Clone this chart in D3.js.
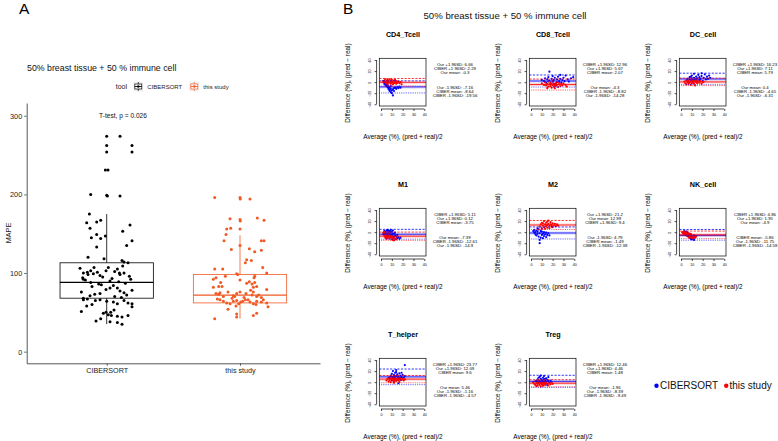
<!DOCTYPE html>
<html>
<head>
<meta charset="utf-8">
<script src="https://cdn.jsdelivr.net/npm/d3@7"></script>
<style>
  body { margin: 0; background: #fff; }
  text { font-family: "Liberation Sans", Arial, Helvetica, sans-serif; }
</style>
</head>
<body>
<script>
// ---------------- DATA: Panel A ----------------
const tools = ["CIBERSORT", "this study"];
const yTicksA = [0, 100, 200, 300];
// box stats: [lowerWhisker, q1, median, q3, upperWhisker]
const boxCiber = [35, 68, 88, 113, 175];
const boxOur = [42, 62, 72, 98, 148];
const pValueText = "T-test, p = 0.026";
// jittered points: [jitter (category units), MAPE]
const ptsCiber = [
  [0,274],[0.1,274],[0,262],[0.19,262],[0,254],[0.19,254],[-0.01,231],[0.01,231],
  [-0.12,200],[0,199],[0.005,198],[0.1,198],[-0.13,175],[-0.15,164],[-0.075,165],[-0.045,167],
  [-0.125,157],[0.12,153],[0.175,161],[-0.075,149],[-0.115,145],[-0.045,144],[-0.01,147],
  [-0.075,133],[0.15,135],[0.19,141],[-0.14,120],[-0.02,118],[0.115,116],[0.13,114],[0.16,113],[0.12,109],
  [-0.2,106],[-0.175,100],[-0.145,101],[-0.12,103],[-0.095,107],[-0.07,101],[-0.05,97],[-0.1,99],
  [-0.005,103],[0.012,107],[0.08,105],[0.095,100],[0.1,98],[0.13,100],[0.18,92],[-0.175,92],[-0.16,91],
  [-0.04,85],[-0.11,83],[0.05,84],[0.025,90],[-0.19,76],[-0.05,74],[-0.005,79],[0.025,81],[0.08,81],
  [0.1,77],[0.13,75],[0.15,72],[0.19,78],[-0.125,71],[-0.09,73],[-0.175,68],[-0.145,67],[0.06,70],[0.11,69],
  [-0.03,95],[0.04,93],[-0.12,88],[0.14,87],[-0.06,86],[0.09,89],[0.17,96],[-0.18,94],[0.06,102],[-0.14,98],
  [-0.19,51],[-0.08,39],[-0.045,42],[-0.025,49],[-0.005,50],[0.012,47],[0.03,50],[0.055,53],[0.035,46],
  [0.08,45],[0.115,44],[0.16,46],[0.025,38],[0.08,37],[0.115,35],[0.08,61],[0.16,62],[0.19,61],[0.19,57],
  [-0.175,66],[-0.085,65],[-0.05,66],[0,64],[-0.11,60],[0.05,63],[-0.15,58],[0.13,65]
];
const ptsOur = [
  [-0.19,196],[0,196],[0.002,194],[0.075,194],[-0.075,169],[0,168],[0.002,166],[0.13,170],[0.18,167],
  [-0.1,156],[-0.07,157],[-0.105,149],[0,156],[-0.12,141],[-0.065,130],[0,135],[0.07,131],[0.11,127],
  [0.16,129],[0.16,141],[0.18,141],[0.05,117],[0.04,113],[0.085,116],[0.17,107],[-0.19,105],[-0.13,105],
  [-0.025,99],[-0.017,98],[-0.11,96],[0.11,96],[0.105,94],[0.2,100],
  [-0.2,92],[-0.18,94],[-0.145,88],[-0.2,82],[-0.16,83],[-0.135,83],[0,91],[0.05,87],[0.07,89],[0.09,86],
  [0.11,88],[0.125,83],[0.1,82],[-0.18,74],[-0.16,73],[-0.15,75],[-0.125,70],[-0.05,71],[-0.04,70],
  [-0.025,74],[0,76],[0.045,74],[0.09,72],[0.1,76],[0.125,70],[0.16,69],[0.2,79],
  [-0.15,66],[-0.125,64],[-0.1,62],[-0.075,61],[-0.05,64],[-0.025,65],[-0.01,61],[0.005,63],[0.02,64],
  [0.04,66],[0.075,63],[0.1,61],[0.125,64],[0.175,66],[0.2,62],[0.21,57],[-0.09,54],
  [-0.19,42],[-0.025,44],[-0.025,48],[0.1,46],[0.125,49],
  [-0.06,68],[0.03,69],[0.06,66],[-0.17,67],[0.14,72],[-0.09,76],[0.08,78],[0.16,63],[-0.03,58],[0.12,60]
];

// ---------------- DATA: Panel B ----------------
const cellTypes = ["CD4_Tcell","CD8_Tcell","DC_cell","M1","M2","NK_cell","T_helper","Treg"];
const ourMean   = [-0.3, -4.3, 0.4, -7.39, 12.99, -4.9, 5.46, -1.96];
const ourUpper  = [6.66, 5.67, 7.11, 0.12, 21.2, 1.95, 12.09, 4.46];
const ourLower  = [-7.16, -14.28, -6.31, -14.9, 4.79, -11.75, -1.16, -8.39];
const ciberMean = [-8.64, 2.07, 5.79, -3.75, -1.49, -5.86, 9.6, 1.48];
const ciberUpper= [2.29, 12.96, 16.23, 5.11, 9.4, 4.86, 23.77, 12.46];
const ciberLower= [-19.56, -8.82, -4.65, -12.61, -12.38, -14.58, -4.57, -9.49];
const xTicksB = [0, 10, 20, 30, 40];
const yTicksB = [-40, -20, 0, 20, 40];

// [average, difference] pairs
const cd4Ciber = [[2,2],[3,0],[3,-3],[4,-2],[4,-5],[5,-4],[5,-7],[6,-6],[6,-9],[7,-8],[7,-11],[7,-13],[8,-10],[8,-14],[8,-16],[9,-12],[9,-18],[10,-15],[10,-20],[11,-13],[11,-24],[12,-11],[12,-16],[13,-10],[14,-12],[15,-9],[16,-11],[17,-8],[18,-10],[5,-1],[6,-3],[9,-7]];
const cd4Our = [[2,1],[3,3],[4,0],[4,5],[5,2],[5,-2],[6,4],[6,1],[7,3],[7,-1],[8,5],[8,0],[9,2],[9,-3],[10,4],[10,-1],[11,1],[11,-4],[12,3],[12,-2],[13,0],[14,2],[14,-3],[15,-1],[16,1],[17,-2],[18,0],[19,-4],[13,4],[6,-4]];
const cd8Ciber = [[10,4],[12,2],[13,7],[14,-1],[15,5],[16,9],[17,19],[17,3],[18,-3],[19,6],[20,11],[20,1],[21,4],[22,8],[23,-2],[24,5],[25,10],[26,2],[27,6],[28,-1],[29,4],[30,8],[31,2],[32,12],[34,5],[35,1],[37,7],[39,9],[22,-4],[27,13]];
const cd8Our = [[10,-2],[12,-5],[13,0],[14,-6],[15,-3],[16,-8],[16,1],[17,-4],[18,-7],[18,-1],[19,-10],[19,-3],[20,-5],[20,2],[21,-8],[21,-2],[22,-6],[22,-11],[23,-3],[23,-7],[24,-5],[24,0],[25,-9],[26,-4],[26,-1],[27,-7],[28,-3],[29,-6],[30,-2],[32,-5],[33,-8],[15,-11]];
const dcCiber = [[5,3],[6,6],[7,1],[8,9],[9,4],[10,7],[10,12],[11,2],[12,8],[12,15],[13,5],[14,10],[14,1],[15,7],[16,13],[17,4],[17,9],[18,6],[19,11],[20,2],[21,8],[22,14],[23,5],[24,10],[25,6],[26,12],[27,8],[11,0],[19,16],[9,10]];
const dcOur = [[3,1],[4,-2],[5,3],[5,-4],[6,0],[7,2],[7,-3],[8,5],[8,-1],[9,1],[9,-5],[10,3],[10,-2],[11,0],[11,4],[12,-3],[12,1],[13,2],[13,-6],[14,0],[15,3],[15,-2],[16,1],[17,-1],[18,2],[19,-3],[20,0],[21,1],[6,4],[14,5]];
const m1Ciber = [[3,2],[4,0],[5,3],[5,-2],[6,4],[6,1],[7,-1],[7,3],[8,2],[8,-3],[9,0],[9,-5],[10,1],[10,-4],[11,-2],[11,-7],[12,-3],[12,-9],[13,-6],[14,-8],[15,-11],[16,-9],[17,-12],[18,-10],[6,-4],[9,4],[13,-1],[15,-5],[4,-3],[11,3]];
const m1Our = [[2,-1],[2,-4],[3,-3],[3,-6],[4,-2],[4,-8],[5,-5],[5,-9],[6,-4],[6,-7],[6,-11],[7,-6],[7,-9],[8,-8],[8,-12],[9,-7],[9,-10],[10,-9],[10,-13],[11,-11],[11,-14],[12,-10],[12,-15],[13,-12],[14,-13],[3,0],[5,-12],[8,-5],[4,-10],[7,-3]];
const m2Ciber = [[2,2],[3,-1],[3,4],[4,0],[4,-4],[5,3],[5,-6],[6,1],[6,-3],[7,5],[7,-8],[8,-2],[8,-20],[9,2],[9,-10],[10,-5],[10,1],[11,-3],[11,-11],[12,0],[12,-7],[13,-4],[14,-1],[14,-9],[15,-5],[16,-2],[17,-6],[6,7],[10,6],[8,-14]];
const m2Our = [[8,10],[9,14],[10,7],[10,17],[11,12],[12,9],[12,20],[13,14],[13,6],[14,11],[14,17],[15,13],[15,8],[16,15],[16,21],[17,11],[17,7],[18,14],[18,18],[19,10],[19,13],[20,16],[20,9],[21,12],[22,15],[23,11],[24,14],[25,12],[11,16],[15,19]];
const nkCiber = [[3,-1],[4,-3],[4,0],[5,-2],[5,-5],[6,-4],[6,-7],[7,-3],[7,-8],[8,-6],[8,-10],[9,-7],[9,-12],[10,-9],[10,-13],[11,-11],[12,-14],[6,-1],[8,-3],[11,-8],[3,2],[5,1],[7,-5],[9,-4],[12,-10]];
const nkOur = [[1,0],[2,-1],[2,-3],[3,-2],[3,-4],[4,-1],[4,-5],[5,-3],[5,-6],[6,-4],[6,-7],[7,-2],[7,-6],[8,-5],[8,-8],[9,-6],[9,-9],[10,-7],[10,-10],[11,-8],[11,-11],[12,-9],[12,-6],[13,-10],[14,-8],[3,0],[5,-1],[7,-9],[9,-3],[13,-7]];
const thCiber = [[8,6],[9,12],[10,3],[10,15],[11,9],[11,20],[12,5],[12,13],[13,17],[13,8],[14,11],[14,22],[15,6],[15,14],[16,10],[16,-2],[17,7],[17,16],[18,12],[18,4],[19,9],[20,13],[21,8],[22,31],[22,11],[12,0],[14,18],[16,4],[19,17],[13,10]];
const thOur = [[5,3],[6,6],[7,1],[7,8],[8,4],[9,7],[9,0],[10,5],[10,10],[11,3],[11,7],[12,6],[12,-1],[13,4],[13,9],[14,2],[14,6],[15,5],[15,11],[16,3],[16,8],[17,5],[17,0],[18,7],[19,4],[20,6],[21,3],[22,5],[8,9],[12,2]];
const tregCiber = [[5,2],[6,5],[7,-1],[7,8],[8,3],[8,10],[9,0],[9,6],[10,4],[10,-3],[11,8],[11,1],[12,5],[12,11],[13,-2],[13,3],[14,7],[14,0],[15,4],[15,-5],[16,2],[16,9],[17,-1],[18,3],[11,-6],[9,12],[13,6],[10,1]];
const tregOur = [[2,0],[3,-3],[4,2],[4,-5],[5,-1],[5,-7],[6,1],[6,-3],[7,-2],[7,3],[8,-5],[8,0],[9,-2],[9,-8],[10,1],[10,-4],[11,-1],[11,-6],[12,2],[12,-3],[13,-1],[13,-5],[14,0],[15,-3],[16,-6],[17,-2],[18,-4],[19,0],[20,-3],[6,-6]];

const ciberPts = [cd4Ciber, cd8Ciber, dcCiber, m1Ciber, m2Ciber, nkCiber, thCiber, tregCiber];
const ourPts = [cd4Our, cd8Our, dcOur, m1Our, m2Our, nkOur, thOur, tregOur];

// ---------------- DRAW ----------------
const W = 778, H = 441;
const FONT = '"Liberation Sans", Arial, Helvetica, sans-serif';
const svg = d3.select("body").append("svg").attr("width", W).attr("height", H);
svg.append("rect").attr("width", W).attr("height", H).attr("fill", "#fff");

const colCiberA = "#000000", colOurA = "#F05A24";

// ---- Panel A ----
const gA = svg.append("g");
gA.append("text").attr("x", 19).attr("y", 14).attr("font-size", 15.5).text("A");
gA.append("text").attr("x", 27).attr("y", 71).attr("font-size", 8.8).attr("fill", "#111").text("50% breast tissue + 50 % immune cell");

const xA = d3.scaleLinear().domain([-0.6, 1.6]).range([26.7, 320]);
const yA = d3.scaleLinear().domain([-14.8, 316.2]).range([363.3, 103]);

const yAxA = gA.append("g").attr("transform", `translate(${xA.range()[0]},0)`)
  .call(d3.axisLeft(yA).tickValues(yTicksA).tickSize(2.5).tickSizeOuter(0).tickPadding(2));
const xAxA = gA.append("g").attr("transform", `translate(0,${yA.range()[0]})`)
  .call(d3.axisBottom(xA).tickValues([0, 1]).tickFormat(i => tools[i]).tickSize(2.5).tickSizeOuter(0).tickPadding(2.5));
[yAxA, xAxA].forEach(a => {
  a.select(".domain").attr("stroke", "#444").attr("stroke-width", 0.9);
  a.selectAll(".tick line").attr("stroke", "#444").attr("stroke-width", 0.8);
  a.selectAll("text").attr("font-family", FONT).attr("fill", "#222");
});
yAxA.selectAll("text").attr("font-size", 7.3);
xAxA.selectAll("text").attr("font-size", 7.2);

gA.append("text").attr("transform", `translate(11,${yA(100) - 40}) rotate(-90)`)
  .attr("text-anchor", "middle").attr("font-size", 7.3).attr("fill", "#222").text("MAPE");

gA.append("text").attr("x", 123).attr("y", 118).attr("text-anchor", "middle")
  .attr("font-size", 6.6).attr("fill", "#111").text(pValueText);

function drawBox(stats, idx, col) {
  const [lw, q1, med, q3, uw] = stats;
  const cx = xA(idx), half = (xA(0.35) - xA(0));
  const g = gA.append("g").attr("stroke", col).attr("stroke-width", 0.8).attr("fill", "none");
  g.append("line").attr("x1", cx).attr("x2", cx).attr("y1", yA(q3)).attr("y2", yA(uw));
  g.append("line").attr("x1", cx).attr("x2", cx).attr("y1", yA(q1)).attr("y2", yA(lw));
  g.append("rect").attr("x", cx - half).attr("width", 2 * half).attr("y", yA(q3)).attr("height", yA(q1) - yA(q3));
  g.append("line").attr("x1", cx - half).attr("x2", cx + half).attr("y1", yA(med)).attr("y2", yA(med)).attr("stroke-width", 1.3);
}
drawBox(boxCiber, 0, colCiberA);
drawBox(boxOur, 1, colOurA);

gA.append("g").selectAll("circle").data(ptsCiber).join("circle")
  .attr("cx", d => xA(0 + d[0])).attr("cy", d => yA(d[1])).attr("r", 1.5).attr("fill", colCiberA);
gA.append("g").selectAll("circle").data(ptsOur).join("circle")
  .attr("cx", d => xA(1 + d[0])).attr("cy", d => yA(d[1])).attr("r", 1.5).attr("fill", colOurA);

// legend A
const lgA = gA.append("g");
lgA.append("text").attr("x", 115.7).attr("y", 89).attr("font-size", 7).attr("fill", "#222").text("tool");
function legKey(x, col, label) {
  const g = lgA.append("g").attr("transform", `translate(${x},81.5)`);
  g.append("rect").attr("width", 10).attr("height", 10).attr("fill", "#f2f2f2");
  g.append("line").attr("x1", 5).attr("x2", 5).attr("y1", 0.5).attr("y2", 9.5).attr("stroke", col).attr("stroke-width", 0.7);
  g.append("rect").attr("x", 1.5).attr("y", 2.5).attr("width", 7).attr("height", 5).attr("fill", "#fff").attr("stroke", col).attr("stroke-width", 0.7);
  g.append("line").attr("x1", 1.5).attr("x2", 8.5).attr("y1", 5).attr("y2", 5).attr("stroke", col).attr("stroke-width", 0.9);
  g.append("circle").attr("cx", 5).attr("cy", 5).attr("r", 1.2).attr("fill", col);
  lgA.append("text").attr("x", x + 14).attr("y", 88.8).attr("font-size", 6).attr("fill", "#222").text(label);
}
legKey(133.3, colCiberA, tools[0]);
legKey(189.3, colOurA, tools[1]);

// ---- Panel B ----
const gB = svg.append("g");
gB.append("text").attr("x", 343).attr("y", 14).attr("font-size", 15.5).text("B");
gB.append("text").attr("x", 505).attr("y", 19).attr("text-anchor", "middle").attr("font-size", 9.6).attr("fill", "#111")
  .text("50% breast tissue + 50 % immune cell");

const blue = "#0000FF", red = "#FF0000";

cellTypes.forEach((name, i) => {
  const col = i % 3, row = Math.floor(i / 3);
  const ox = 340 + col * 150, oy = 30 + row * 150;
  const g = gB.append("g").attr("transform", `translate(${ox},${oy})`);
  const x = d3.scaleLinear().domain([-1.6, 41.6]).range([39.3, 86]);
  const y = d3.scaleLinear().domain([-43.2, 43.2]).range([76, 28.3]);

  g.append("text").attr("x", 63).attr("y", 7).attr("text-anchor", "middle")
    .attr("font-size", 7.2).attr("font-weight", "bold").text(name);

  const clipId = "clip" + i;
  g.append("clipPath").attr("id", clipId).append("rect")
    .attr("x", 39.3).attr("y", 28.3).attr("width", 46.7).attr("height", 47.7);

  const plot = g.append("g").attr("clip-path", `url(#${clipId})`);
  plot.append("g").selectAll("circle").data(ciberPts[i]).join("circle")
    .attr("cx", d => x(d[0])).attr("cy", d => y(d[1])).attr("r", 1.1).attr("fill", blue);
  plot.append("g").selectAll("circle").data(ourPts[i]).join("circle")
    .attr("cx", d => x(d[0])).attr("cy", d => y(d[1])).attr("r", 1.1).attr("fill", red);

  const lines = [
    [ciberMean[i], blue, null], [ciberUpper[i], blue, "2.2,1.4"], [ciberLower[i], blue, "0.7,1.1"],
    [ourMean[i], red, null], [ourUpper[i], red, "2.2,1.4"], [ourLower[i], red, "0.7,1.1"]
  ];
  lines.forEach(([v, c, dash]) => {
    if (!dash) {
      plot.append("line").attr("x1", 39.3).attr("x2", 86).attr("y1", y(v)).attr("y2", y(v))
        .attr("stroke", c).attr("stroke-opacity", 0.18).attr("stroke-width", 3);
    }
    plot.append("line").attr("x1", 39.3).attr("x2", 86).attr("y1", y(v)).attr("y2", y(v))
      .attr("stroke", c).attr("stroke-width", 0.8).attr("stroke-dasharray", dash);
  });

  g.append("rect").attr("x", 39.3).attr("y", 28.3).attr("width", 46.7).attr("height", 47.7)
    .attr("fill", "none").attr("stroke", "#000").attr("stroke-width", 0.7);

  // axes (offset from box like R)
  const ax = g.append("g").attr("transform", "translate(0,79)")
    .call(d3.axisBottom(x).tickValues(xTicksB).tickSize(2).tickSizeOuter(0).tickPadding(2));
  ax.select(".domain").attr("d", `M${x(0)},0H${x(40)}`).attr("stroke-width", 0.7);
  ax.selectAll(".tick line").attr("stroke-width", 0.7);
  ax.selectAll("text").attr("font-size", 3.6).attr("font-family", FONT);
  const ay = g.append("g").attr("transform", "translate(36.6,0)")
    .call(d3.axisLeft(y).tickValues(yTicksB).tickSize(2).tickSizeOuter(0).tickPadding(3));
  ay.select(".domain").attr("d", `M0,${y(40)}V${y(-40)}`).attr("stroke-width", 0.7);
  ay.selectAll(".tick line").attr("stroke-width", 0.7);
  ay.selectAll("text").attr("font-size", 3.6).attr("font-family", FONT)
    .attr("text-anchor", "middle").attr("x", -5.5).attr("dy", 0)
    .attr("transform", "rotate(-90,-5.5,0)");

  g.append("text").attr("x", 63).attr("y", 109).attr("text-anchor", "middle")
    .attr("font-size", 6.4).text("Average (%), (pred + real)/2");
  g.append("text").attr("transform", "translate(10,53) rotate(-90)").attr("text-anchor", "middle")
    .attr("font-size", 6.4).text("Difference (%), (pred \u2212 real)");

  const ann = [
    ["Our +1.96SD", ourUpper[i]], ["CIBER +1.96SD", ciberUpper[i]], ["Our mean", ourMean[i]],
    ["Our -1.96SD", ourLower[i]], ["CIBER mean", ciberMean[i]], ["CIBER -1.96SD", ciberLower[i]]
  ].sort((a, b) => b[1] - a[1]);
  const annY = [35.8, 39.9, 44.0, 58.8, 62.9, 67.0];
  g.append("g").selectAll("text").data(ann).join("text")
    .attr("x", 115).attr("y", (d, k) => annY[k]).attr("text-anchor", "middle")
    .attr("font-size", 4.3).text(d => `${d[0]}: ${d[1]}`);
});

// legend B
const lgB = gB.append("g");
lgB.append("circle").attr("cx", 656.5).attr("cy", 385.8).attr("r", 2.2).attr("fill", blue);
lgB.append("text").attr("x", 660).attr("y", 389.3).attr("font-size", 10).attr("fill", "#111").text("CIBERSORT");
lgB.append("circle").attr("cx", 726.2).attr("cy", 385.8).attr("r", 2.2).attr("fill", red);
lgB.append("text").attr("x", 729.5).attr("y", 389.3).attr("font-size", 10).attr("fill", "#111").text("this study");
</script>
</body>
</html>
